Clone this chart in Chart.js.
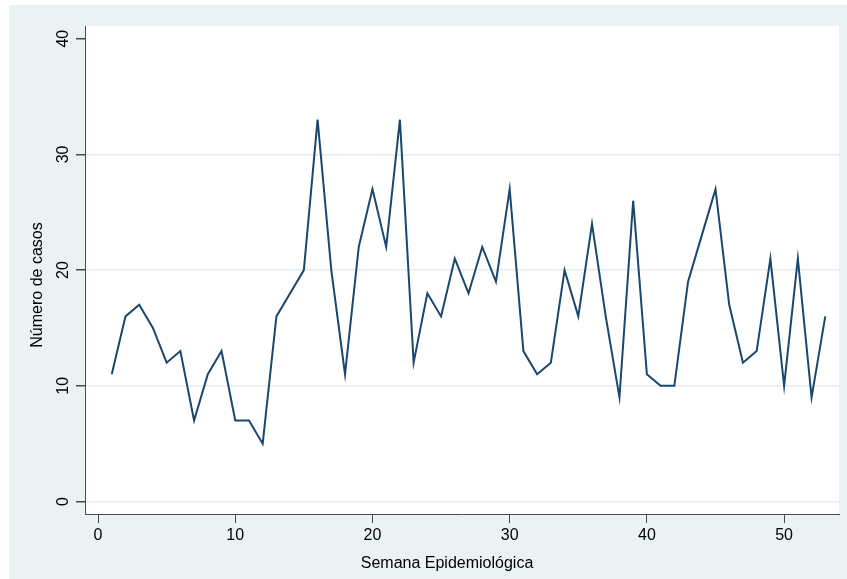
<!DOCTYPE html>
<html>
<head>
<meta charset="utf-8">
<script src="https://cdn.jsdelivr.net/npm/chart.js@4"></script>
<style>
  html, body { margin: 0; padding: 0; background: #fff; }
  #wrap { width: 847px; height: 579px; }
</style>
</head>
<body>
<div id="wrap"><canvas id="lineChart" width="847" height="579"></canvas></div>
<script>
// Weekly case counts
const weeks = [1, 2, 3, 4, 5, 6, 7, 8, 9, 10, 11, 12, 13, 14, 15, 16, 17, 18, 19, 20,
    21, 22, 23, 24, 25, 26, 27, 28, 29, 30, 31, 32, 33, 34, 35, 36, 37, 38, 39, 40,
    41, 42, 43, 44, 45, 46, 47, 48, 49, 50, 51, 52, 53];
const cases = [11, 16, 17, 15, 12, 13, 7, 11, 13, 7, 7, 5, 16, 18, 20, 33, 20, 11, 22, 27,
    22, 33, 12, 18, 16, 21, 18, 22, 19, 27, 13, 11, 12, 20, 16, 24, 16, 9, 26, 11,
    10, 10, 19, 23, 27, 17, 12, 13, 21, 10, 21, 9, 16];
const xTicks = [0, 10, 20, 30, 40, 50];
const yTicks = [0, 10, 20, 30, 40];
const xTitle = 'Semana Epidemiológica';
const yTitle = 'Número de casos';

const FONT = '"Liberation Sans", Arial, sans-serif';
const BG = '#eaf2f3';
const AXIS = '#4a4a4a';

// Stata-like background: grey graph region, white plot region
const backdrop = {
    id: 'backdrop',
    beforeDraw(chart) {
        const ctx = chart.ctx;
        const a = chart.chartArea;
        ctx.save();
        ctx.fillStyle = '#ffffff';
        ctx.fillRect(0, 0, chart.width, chart.height);
        ctx.fillStyle = BG;
        ctx.fillRect(9, 5, chart.width - 9, chart.height - 5);
        ctx.fillStyle = '#ffffff';
        ctx.fillRect(a.left, a.top, a.right - a.left, a.bottom - a.top);
        ctx.restore();
    }
};

// Rotated y tick labels and both axis titles
const labels = {
    id: 'labels',
    afterDraw(chart) {
        const ctx = chart.ctx;
        const y = chart.scales.y;
        ctx.save();
        ctx.fillStyle = '#000';
        ctx.font = '16px ' + FONT;
        ctx.textAlign = 'center';
        ctx.textBaseline = 'alphabetic';
        yTicks.forEach(v => {
            ctx.save();
            ctx.translate(y.right - 9 - 8, y.getPixelForValue(v));
            ctx.rotate(-Math.PI / 2);
            ctx.fillText(String(v), 0, 0);
            ctx.restore();
        });
        // y title
        ctx.save();
        ctx.translate(42, 285);
        ctx.rotate(-Math.PI / 2);
        ctx.fillText(yTitle, 0, 0);
        ctx.restore();
        // x title
        ctx.fillText(xTitle, 447, 568);
        ctx.restore();
    }
};

const points = weeks.map((w, i) => ({ x: w, y: cases[i] }));

new Chart(document.getElementById('lineChart').getContext('2d'), {
    type: 'line',
    data: {
        datasets: [{
            data: points,
            borderColor: '#1a476f',
            borderWidth: 2,
            pointRadius: 0,
            tension: 0,
            fill: false
        }]
    },
    options: {
        responsive: false,
        animation: false,
        layout: { padding: { left: 0, top: 26, right: 8, bottom: 0 } },
        plugins: {
            legend: { display: false },
            tooltip: { enabled: false }
        },
        scales: {
            x: {
                type: 'linear',
                min: -0.95,
                max: 54,
                afterBuildTicks: s => { s.ticks = xTicks.map(v => ({ value: v })); },
                afterFit: s => { s.height = 65; },
                grid: { drawOnChartArea: false, tickLength: 9, tickColor: AXIS },
                border: { color: AXIS, width: 1 },
                ticks: { color: '#000', font: { family: FONT, size: 16 }, padding: 3, maxRotation: 0 },
                title: { display: false }
            },
            y: {
                min: -1.08,
                max: 41.1,
                afterBuildTicks: s => { s.ticks = yTicks.map(v => ({ value: v })); },
                afterFit: s => { s.width = 85; },
                grid: {
                    color: c => (c.tick && c.tick.value === 40) ? 'rgba(0,0,0,0)' : '#e4ecee',
                    lineWidth: 1.5,
                    tickLength: 9,
                    tickColor: AXIS
                },
                border: { color: AXIS, width: 1 },
                ticks: { display: false },
                title: { display: false }
            }
        }
    },
    plugins: [backdrop, labels]
});
</script>
</body>
</html>
